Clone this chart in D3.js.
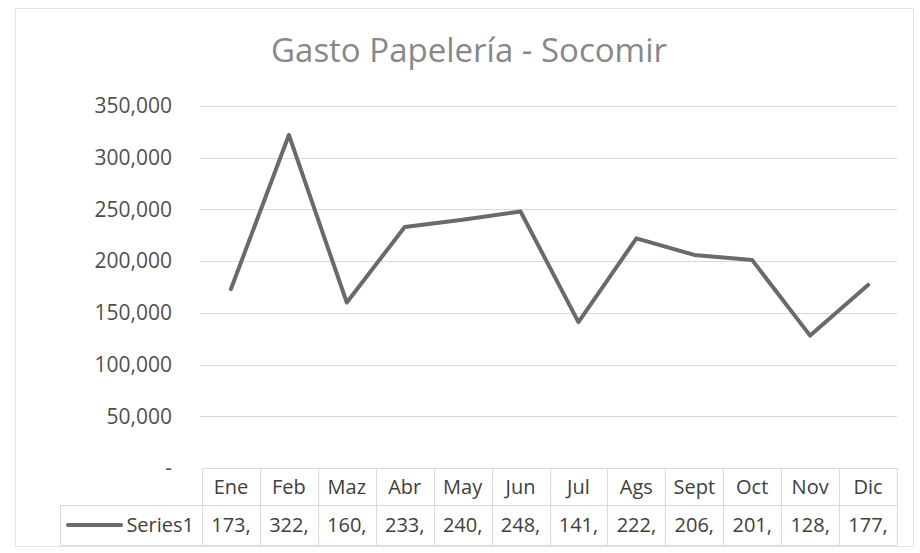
<!DOCTYPE html>
<html><head><meta charset="utf-8">
<script src="https://cdn.jsdelivr.net/npm/d3@7"></script>
<style>
html,body{margin:0;padding:0;background:#fff;}
svg{display:block;}
text{font-family:"Open Sans",sans-serif;}
</style></head>
<body>
<svg id="chart" width="920" height="553"></svg>
<script>
const titleText = "Gasto Papelería - Socomir";
const months = ["Ene","Feb","Maz","Abr","May","Jun","Jul","Ags","Sept","Oct","Nov","Dic"];
const seriesName = "Series1";
const values = [173000, 322000, 160000, 233000, 240000, 248000, 141000, 222000, 206000, 201000, 128000, 177000];
const yTicks = [0, 50000, 100000, 150000, 200000, 250000, 300000, 350000];

const svg = d3.select("#chart");
const plotL = 202, plotR = 897, plotT = 106, plotB = 468;
const rowH1 = 37, rowH2 = 40;
const legendL = 60;

// chart border
svg.append("rect").attr("x", 15.5).attr("y", 8.5).attr("width", 898).attr("height", 538)
  .attr("fill", "#fff").attr("stroke", "#e3e3e3").attr("stroke-width", 1);

const x = d3.scaleBand().domain(months).range([plotL, plotR]);
const y = d3.scaleLinear().domain([0, 350000]).range([plotB, plotT]);

// title
svg.append("text").attr("x", 469).attr("y", 62).attr("text-anchor", "middle")
  .attr("font-size", 33).attr("fill", "#888888").text(titleText);

// gridlines
svg.append("g").selectAll("line").data(yTicks.filter(d => d > 0)).join("line")
  .attr("x1", plotL - 2).attr("x2", plotR)
  .attr("y1", d => Math.round(y(d)) + 0.5).attr("y2", d => Math.round(y(d)) + 0.5)
  .attr("stroke", "#d9d9d9").attr("stroke-width", 1);

// y axis labels
const fmt = d3.format(",");
svg.append("g").selectAll("text").data(yTicks).join("text")
  .attr("x", 172).attr("y", d => y(d)).attr("dy", "0.35em")
  .attr("text-anchor", "end").attr("font-size", 21).attr("fill", "#505050")
  .text(d => d === 0 ? "-" : fmt(d));

// line
const line = d3.line().x(d => x(d.m) + x.bandwidth() / 2).y(d => y(d.v));
svg.append("path").datum(months.map((m, i) => ({m, v: values[i]})))
  .attr("d", line).attr("fill", "none").attr("stroke", "#6a6a6a")
  .attr("stroke-width", 4).attr("stroke-linejoin", "round").attr("stroke-linecap", "round");

// data table
const tg = svg.append("g");
const tc = "#dadada";
const r1 = plotB, r2 = plotB + rowH1, r3 = plotB + rowH1 + rowH2;
tg.append("line").attr("x1", plotL).attr("x2", plotR).attr("y1", r1 + 0.5).attr("y2", r1 + 0.5).attr("stroke", tc);
tg.append("line").attr("x1", legendL).attr("x2", plotR).attr("y1", r2 + 0.5).attr("y2", r2 + 0.5).attr("stroke", tc);
tg.append("line").attr("x1", legendL).attr("x2", plotR).attr("y1", r3 + 0.5).attr("y2", r3 + 0.5).attr("stroke", tc);
const vx = months.map(m => x(m)).concat([plotR]);
tg.selectAll("line.v").data(vx).join("line").attr("class", "v")
  .attr("x1", d => Math.round(d) + 0.5).attr("x2", d => Math.round(d) + 0.5)
  .attr("y1", r1).attr("y2", r3).attr("stroke", tc);
tg.append("line").attr("x1", legendL + 0.5).attr("x2", legendL + 0.5).attr("y1", r2).attr("y2", r3).attr("stroke", tc);

tg.selectAll("text.h").data(months).join("text").attr("class", "h")
  .attr("x", d => x(d) + x.bandwidth() / 2).attr("y", (r1 + r2) / 2).attr("dy", "0.35em")
  .attr("text-anchor", "middle").attr("font-size", 20).attr("fill", "#404040").text(d => d);

tg.selectAll("text.val").data(values).join("text").attr("class", "val")
  .attr("x", (d, i) => x(months[i]) + x.bandwidth() / 2).attr("y", (r2 + r3) / 2).attr("dy", "0.35em")
  .attr("text-anchor", "middle").attr("font-size", 20).attr("fill", "#404040")
  .text(d => Math.floor(d / 1000) + ",");

// legend key
const ly = (r2 + r3) / 2;
tg.append("line").attr("x1", 68).attr("x2", 121).attr("y1", ly).attr("y2", ly)
  .attr("stroke", "#6a6a6a").attr("stroke-width", 4).attr("stroke-linecap", "round");
tg.append("text").attr("x", 194).attr("y", ly).attr("dy", "0.35em").attr("text-anchor", "end")
  .attr("font-size", 20).attr("fill", "#404040").text(seriesName);
</script>
</body></html>
